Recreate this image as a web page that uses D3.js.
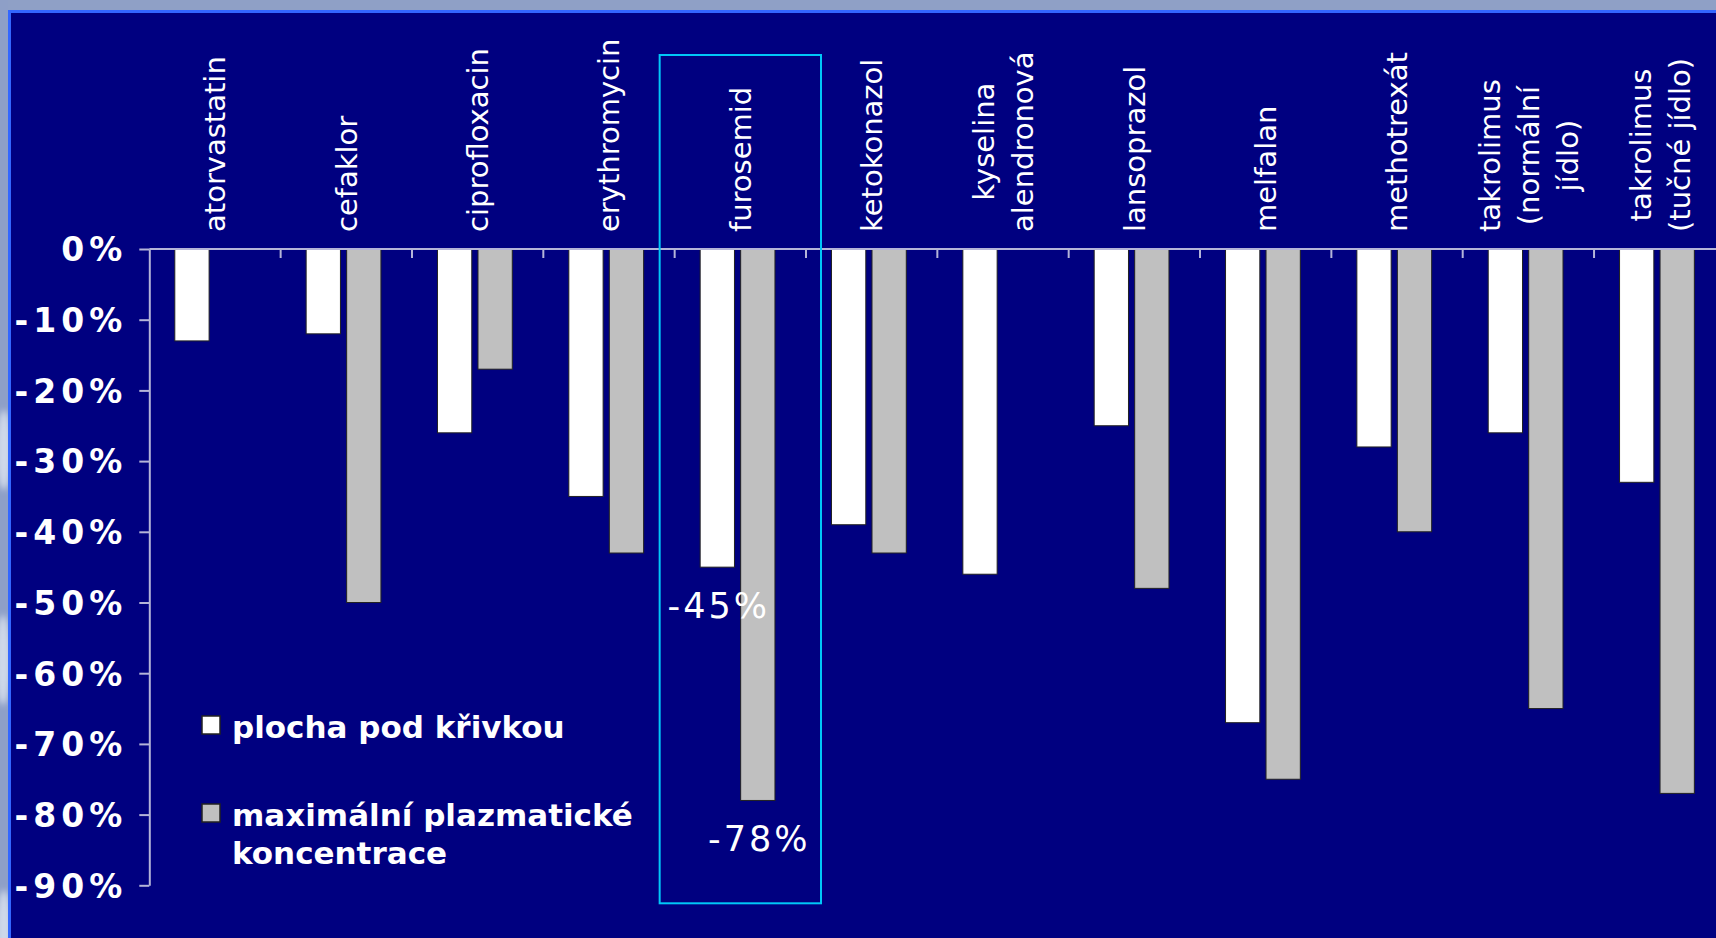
<!DOCTYPE html>
<html>
<head>
<meta charset="utf-8">
<script src="https://cdn.jsdelivr.net/npm/d3@7"></script>
<style>
  html, body { margin: 0; padding: 0; background: #000080; }
  svg { display: block; }
</style>
</head>
<body>
<svg id="chart" width="1716" height="938"></svg>
<script>
// Categories (drugs) and their label lines
const categories = [
  "atorvastatin", "cefaklor", "ciprofloxacin", "erythromycin", "furosemid",
  "ketokonazol", "kyselina alendronová", "lansoprazol", "melfalan",
  "methotrexát", "takrolimus (normální jídlo)", "takrolimus (tučné jídlo)"
];
const categoryLines = [
  ["atorvastatin"], ["cefaklor"], ["ciprofloxacin"], ["erythromycin"], ["furosemid"],
  ["ketokonazol"], ["kyselina", "alendronová"], ["lansoprazol"], ["melfalan"],
  ["methotrexát"], ["takrolimus", "(normální", "jídlo)"], ["takrolimus", "(tučné jídlo)"]
];

// Change in % caused by food intake
const aucValues  = [-13, -12, -26, -35, -45, -39, -46, -25, -67, -28, -26, -33]; // plocha pod křivkou
const cmaxValues = [null, -50, -17, -43, -78, -43, null, -48, -75, -40, -65, -77]; // maximální plazmatické koncentrace

const seriesNames = ["plocha pod křivkou", "maximální plazmatické koncentrace"];
const legendLines = [["plocha pod křivkou"], ["maximální plazmatické", "koncentrace"]];
const seriesColors = ["#ffffff", "#c0c0c0"];

const yTicks = [0, -10, -20, -30, -40, -50, -60, -70, -80, -90];
const highlighted = "furosemid";

const svg = d3.select("#chart");
const W = 1716, H = 938;

// ---- slide background ----
svg.append("rect").attr("width", W).attr("height", H).attr("fill", "#000080");

const defs = svg.append("defs");
defs.append("filter").attr("id", "soft")
  .append("feGaussianBlur").attr("stdDeviation", 3);
defs.append("clipPath").attr("id", "leftStrip")
  .append("rect").attr("x", 0).attr("y", 0).attr("width", 8).attr("height", H);

// light frame strips at top and left
svg.append("rect").attr("x", 0).attr("y", 0).attr("width", W).attr("height", 10).attr("fill", "#8fa0c6");
svg.append("rect").attr("x", 0).attr("y", 0).attr("width", 8).attr("height", H).attr("fill", "#8e9fc7");
const clouds = svg.append("g").attr("clip-path", "url(#leftStrip)");
[[4, 450, 40], [3, 660, 45], [4, 930, 40]].forEach(([cx, cy, r]) => {
  clouds.append("ellipse").attr("cx", cx).attr("cy", cy).attr("rx", 8).attr("ry", r)
    .attr("fill", "#dfe6f2").attr("opacity", 0.8).attr("filter", "url(#soft)");
});
// bright blue inner border
svg.append("rect").attr("x", 8).attr("y", 10).attr("width", W).attr("height", 3).attr("fill", "#3366ff");
svg.append("rect").attr("x", 8).attr("y", 10).attr("width", 3).attr("height", H).attr("fill", "#3366ff");

// ---- scales ----
const plotLeft = 149.3, step = 131.34;
const x = d3.scaleBand().domain(categories)
  .range([plotLeft, plotLeft + step * categories.length]).paddingInner(0).paddingOuter(0);
const xSub = d3.scaleBand().domain(seriesNames).range([25.5, 100.3]).paddingInner(0.153);
const y = d3.scaleLinear().domain([0, -90]).range([249, 885.3]);

const axisColor = "#b4b4d8";

// ---- bars ----
const series = [aucValues, cmaxValues];
const barsG = svg.append("g");
series.forEach((vals, si) => {
  barsG.selectAll(null)
    .data(categories.map((c, i) => ({ c, v: vals[i] })).filter(d => d.v !== null))
    .join("rect")
    .attr("x", d => x(d.c) + xSub(seriesNames[si]))
    .attr("y", y(0))
    .attr("width", xSub.bandwidth())
    .attr("height", d => y(d.v) - y(0))
    .attr("fill", seriesColors[si])
    .attr("stroke", "#222")
    .attr("stroke-width", 1);
});

// ---- y axis ----
const yAxis = d3.axisLeft(y).tickValues(yTicks).tickSize(10).tickSizeOuter(0)
  .tickFormat(d => d + "%");
const yG = svg.append("g").attr("transform", `translate(${plotLeft},0)`).call(yAxis);
yG.select(".domain").attr("stroke", axisColor).attr("stroke-width", 2);
yG.selectAll(".tick line").attr("stroke", axisColor).attr("stroke-width", 2);
yG.selectAll(".tick text")
  .attr("fill", "#ffffff")
  .attr("x", -22)
  .attr("dy", "0.36em")
  .style("font-family", "'DejaVu Sans', Verdana, sans-serif")
  .style("font-weight", "bold")
  .style("font-size", "33px")
  .style("letter-spacing", "5px");

// ---- zero line with category ticks ----
svg.append("line").attr("x1", plotLeft).attr("x2", W).attr("y1", y(0)).attr("y2", y(0))
  .attr("stroke", axisColor).attr("stroke-width", 2);
svg.append("g").selectAll("line").data(categories.slice(1)).join("line")
  .attr("x1", d => x(d)).attr("x2", d => x(d))
  .attr("y1", y(0)).attr("y2", y(0) + 9)
  .attr("stroke", axisColor).attr("stroke-width", 2);

// ---- category labels (rotated) ----
const labelFont = "'DejaVu Sans', Verdana, sans-serif";
const labelSize = 29, lineGap = 39, labelBottom = y(0) - 17;
categories.forEach((c, i) => {
  const lines = categoryLines[i];
  const g = svg.append("g")
    .attr("transform", `translate(${x(c) + x.bandwidth() / 2},${labelBottom}) rotate(-90)`);
  const texts = lines.map((ln, li) => g.append("text")
    .attr("y", (li - (lines.length - 1) / 2) * lineGap)
    .attr("dy", "0.36em")
    .attr("text-anchor", "middle")
    .attr("fill", "#ffffff")
    .style("font-family", labelFont)
    .style("font-size", labelSize + "px")
    .text(ln));
  const maxLen = d3.max(texts, t => t.node().getComputedTextLength());
  texts.forEach(t => t.attr("x", maxLen / 2));
});

// ---- highlight frame and value labels ----
const hi = categories.indexOf(highlighted);
svg.append("rect")
  .attr("x", x(highlighted) - 15).attr("y", 55)
  .attr("width", x.bandwidth() + 30).attr("height", y(-90) + 18 - 55)
  .attr("fill", "none").attr("stroke", "#00c8f8").attr("stroke-width", 2);

[[aucValues[hi], 0], [cmaxValues[hi], 1]].forEach(([v, si]) => {
  svg.append("text")
    .attr("x", x(highlighted) + xSub(seriesNames[si]) + xSub.bandwidth() / 2 + 1.5)
    .attr("y", y(v) + 51)
    .attr("text-anchor", "middle")
    .attr("fill", "#ffffff")
    .style("font-family", labelFont)
    .style("font-size", "35px")
    .style("letter-spacing", "3px")
    .text(v + "%");
});

// ---- legend ----
const legend = svg.append("g").attr("transform", "translate(202,0)");
const legendY = [716, 804];
legendLines.forEach((lines, i) => {
  legend.append("rect").attr("x", 0).attr("y", legendY[i])
    .attr("width", 18).attr("height", 18)
    .attr("fill", seriesColors[i]).attr("stroke", "#222").attr("stroke-width", 1.5);
  lines.forEach((ln, li) => {
    legend.append("text")
      .attr("x", 30).attr("y", legendY[i] + 22 + li * 38)
      .attr("fill", "#ffffff")
      .style("font-family", "'DejaVu Sans', Tahoma, sans-serif")
      .style("font-weight", "bold")
      .style("font-size", "31px")
      .text(ln);
  });
});
</script>
</body>
</html>
